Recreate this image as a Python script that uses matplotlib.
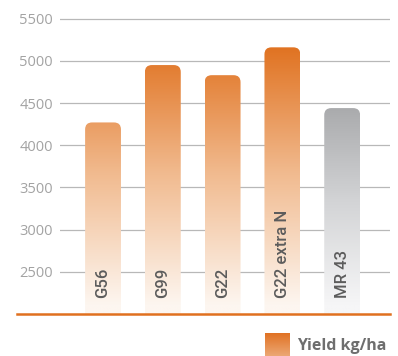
import numpy as np
import matplotlib.pyplot as plt
from matplotlib.patches import FancyBboxPatch
from matplotlib.colors import LinearSegmentedColormap

plt.rcParams['font.family'] = ['Open Sans', 'DejaVu Sans']

# yield per variety, MR 43 is the reference check
varieties = ["G56", "G99", "G22", "G22 extra N", "MR 43"]
yields = [4270, 4950, 4830, 5160, 4440]
is_check = [False, False, False, False, True]
yticks = [2500, 3000, 3500, 4000, 4500, 5000, 5500]
legend_label = "Yield kg/ha"

orange = LinearSegmentedColormap.from_list("orange", ["#fdf6f0", "#f1bb90", "#e0711f"])
grey = LinearSegmentedColormap.from_list("grey", ["#f6f6f7", "#d3d4d6", "#a6a7a9"])

fig = plt.figure(figsize=(3.98, 3.56), dpi=100)
ax = fig.add_axes([60 / 398, 42 / 356, 330 / 398, 303.8 / 356])

ymin, ymax = 2000, 5600
xmin, xmax = -0.72, 4.80
ax.set_xlim(xmin, xmax)
ax.set_ylim(ymin, ymax)

for t in yticks:
    ax.axhline(t, color="#b8b8b8", lw=0.9, zorder=0)

# orange baseline runs out under the tick labels
ax.axhline(ymin, xmin=(17 - 60) / 330, xmax=1, color="#e0701f", lw=1.8,
           clip_on=False, zorder=5)

bar_w = 0.60
# rounded top corners: radius in x units, scaled for y via mutation_aspect
px_x = 330 / (xmax - xmin)
px_y = 303.8 / (ymax - ymin)
rad = 7 / px_x
aspect = (7 / px_y) / rad

grad = np.linspace(ymin, ymax, 400).reshape(-1, 1)
for i, (name, val, chk) in enumerate(zip(varieties, yields, is_check)):
    x0 = i - bar_w / 2
    shape = FancyBboxPatch((x0, ymin - 300), bar_w, val - ymin + 300,
                           boxstyle=f"round,pad=0,rounding_size={rad}",
                           mutation_aspect=aspect, facecolor="none",
                           edgecolor="none")
    ax.add_patch(shape)
    cmap = grey if chk else orange
    vmax = 4550 if chk else 5200
    im = ax.imshow(grad, cmap=cmap, vmin=ymin + 100, vmax=vmax, origin="lower",
                   extent=[x0, x0 + bar_w, ymin, ymax], aspect="auto",
                   interpolation="bilinear", zorder=2)
    im.set_clip_path(shape)
    ax.text(i, 2190, name, rotation=90, ha="center", va="bottom",
            color="#5c5c5c", fontsize=12, family=["Roboto", "DejaVu Sans"],
            fontweight="medium", zorder=3)

ax.set_aspect("auto")
ax.set_xlim(xmin, xmax)
ax.set_ylim(ymin, ymax)
ax.set_yticks(yticks)
ax.set_yticklabels([str(t) for t in yticks])
ax.set_xticks([])
ax.tick_params(axis="y", length=0, pad=5, labelsize=10.5, labelcolor="#a3a3a3")
for s in ax.spines.values():
    s.set_visible(False)

# legend swatch with the same orange fade
lax = fig.add_axes([265 / 398, 0, 24 / 398, 23 / 356])
lax.imshow(np.linspace(0, 1, 50).reshape(-1, 1),
           cmap=LinearSegmentedColormap.from_list("sw", ["#e07020", "#eca774"][::-1]),
           aspect="auto", origin="lower", extent=[0, 1, 0, 1])
lax.axis("off")
fig.text(297 / 398, 6 / 356, legend_label, va="baseline", ha="left",
         fontsize=11.5, fontweight="bold", color="#6e6e6e")

fig.savefig("out.png", dpi=100)
